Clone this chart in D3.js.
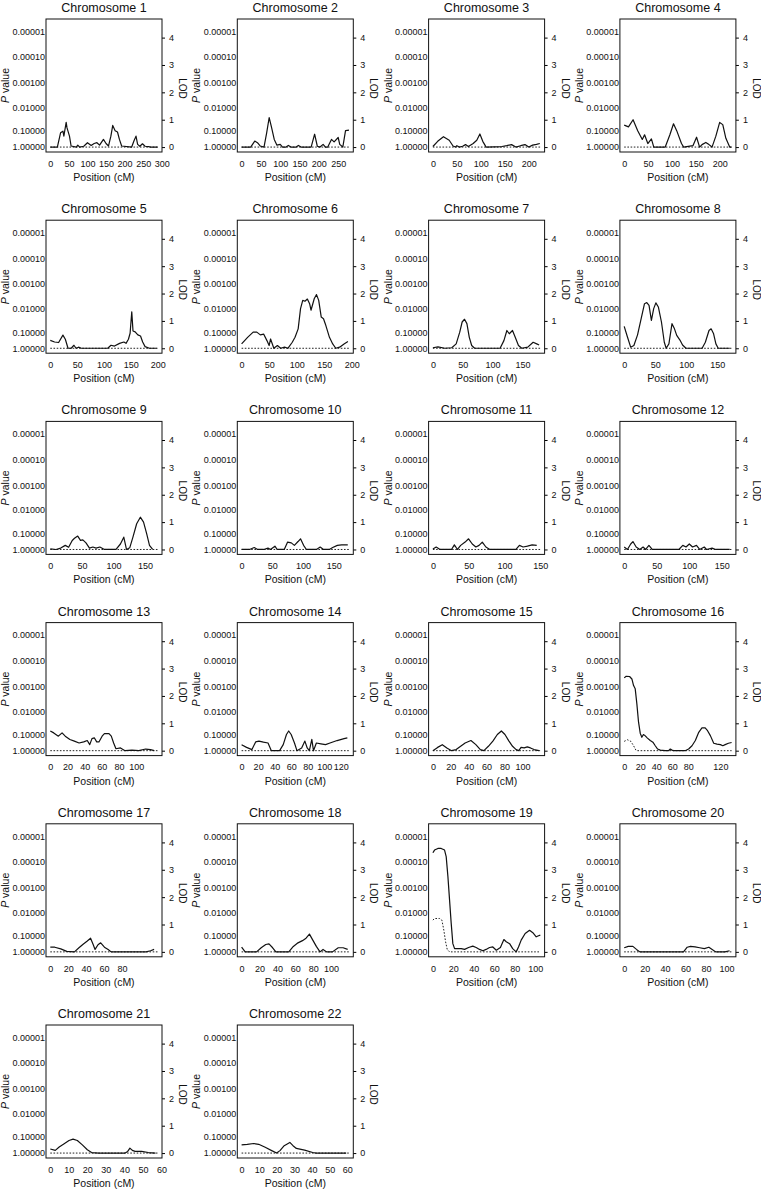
<!DOCTYPE html>
<html>
<head>
<meta charset="utf-8">
<script src="https://cdn.jsdelivr.net/npm/d3@7"></script>
<style>
  body { margin: 0; background: #fff; }
  svg text { font-family: "Liberation Sans", Arial, Helvetica, sans-serif; fill: #111; }
</style>
</head>
<body>
<svg id="chart" width="761" height="1201"></svg>
<script>
// chromosome names and map lengths (cM)
const chromosomes = ["1","2","3","4","5","6","7","8","9","10","11","12","13","14","15","16","17","18","19","20","21","22"];
const chrLength = [289, 278, 224, 225, 200, 195, 180, 173, 170, 175, 150, 165, 125, 130, 120, 134, 120, 120, 105, 105, 58, 61];

// x tick labels for each panel
const xTicks = [
  [0,50,100,150,200,250,300], [0,50,100,150,200,250], [0,50,100,150,200], [0,50,100,150,200],
  [0,50,100,150,200], [0,50,100,150,200], [0,50,100,150], [0,50,100,150],
  [0,50,100,150], [0,50,100,150], [0,50,100,150], [0,50,100,150],
  [0,20,40,60,80,100], [0,20,40,60,80,100,120], [0,20,40,60,80,100], [0,20,40,60,80,120],
  [0,20,40,60,80], [0,20,40,60,80,100], [0,20,40,60,80,100], [0,20,40,60,80,100],
  [0,10,20,30,40,50,60], [0,10,20,30,40,50,60]
];

// right axis (LOD) and left axis (P value, placed at matching LOD)
const lodTicks = [0, 1, 2, 3, 4];
const pTickLabels = ["0.00001", "0.00010", "0.00100", "0.01000", "0.10000", "1.00000"];
const pTickLod = [4.23, 3.29, 2.35, 1.44, 0.59, 0];

// multipoint LOD curves, [position cM, LOD]
const lodCurves = [
  [[0,0],[19,0],[27.6,0.52],[34,0.58],[36.5,0.4],[42.7,0.9],[45,0.7],[51.6,0.4],[56,0.04],[70,0],[74,0.07],[79,0],[90,0.03],[100,0.16],[110,0.06],[118,0.13],[125.5,0.16],[132.6,0.07],[143,0.28],[150,0.13],[156.7,0.04],[163,0.4],[168,0.79],[174.5,0.6],[180.8,0.55],[186,0.28],[192,0.04],[219,0],[225,0.22],[230.6,0.4],[235,0.1],[241,0.03],[248,0.12],[255,0.03],[264,0.02],[270,0],[289,0]],
  [[0,0],[23.5,0],[34,0.22],[41,0.16],[48,0.04],[58,0],[65,0.53],[71.4,1.08],[77.5,0.72],[84.5,0.28],[91.5,0.07],[100,0.1],[106,0],[115,0],[121,0.06],[128,0],[141,0],[147,0.06],[154,0],[180,0],[189,0.47],[196,0.03],[203,0],[211,0.1],[217,0],[223,0],[232.6,0.28],[239.5,0.19],[250,0.35],[254,0.1],[262,0],[269,0.6],[278,0.62]],
  [[0,0.02],[10,0.21],[22,0.38],[34,0.25],[42,0.04],[47,0],[50,0.05],[55,0],[62,0.03],[68,0.09],[74,0.02],[84,0.13],[91.5,0.25],[98,0.48],[104,0.21],[111,0],[144,0.02],[154,0.05],[164,0.09],[173,0],[183,0.05],[192,0.09],[200,0],[208,0.07],[216,0.1],[223,0.13]],
  [[0,0.8],[9,0.74],[18.6,1.0],[28.3,0.6],[37.9,0.28],[42.7,0.45],[49.5,0.13],[57,0.3],[62,0],[86,0],[95.7,0.45],[103.3,0.85],[110,0.6],[120,0.13],[124.6,0],[144,0.05],[151.6,0.36],[158,0],[163,0.09],[171,0.17],[177.6,0.09],[184,0],[192,0.4],[200,0.9],[206.5,0.82],[213,0.32],[221,0],[225,0]],
  [[0,0.29],[8,0.23],[15.5,0.21],[23.5,0.48],[28,0.33],[33,0],[39,0],[44,0.11],[48,0],[52.6,0.04],[57.6,0],[107,0],[113,0.11],[119.5,0.08],[129,0.18],[137,0.23],[141,0.18],[145.5,0.33],[148.6,0.55],[151.7,1.33],[154,0.63],[158,0.6],[163,0.49],[168,0.45],[172,0.23],[176.5,0.06],[184.5,0],[198,0]],
  [[0,0.16],[10.9,0.4],[21,0.59],[27.6,0.59],[34,0.49],[40,0.52],[46,0.28],[50,0.1],[52.6,0.34],[58.5,0],[65,0.1],[71,0],[78,0.04],[84,0],[92,0.22],[97,0.4],[102.7,0.71],[107,1.45],[111,1.75],[115,1.72],[119.4,1.8],[123.5,1.63],[126,1.39],[132,1.82],[136,1.96],[140,1.75],[144.6,1.14],[148.7,1.08],[153,0.83],[159.5,0.4],[165.4,0.16],[171,0],[178,0.04],[186,0.16],[193,0.25]],
  [[0,0.02],[8.5,0.05],[20,0],[31.6,0.02],[39,0.16],[45,0.59],[49,0.96],[53,1.06],[57,0.9],[61,0.4],[65,0.1],[70,0],[112.6,0],[119,0.28],[124,0.65],[128,0.53],[133.4,0.65],[138,0.4],[143.4,0.1],[149,0],[159,0.04],[168,0.22],[174,0.16],[178,0.12]],
  [[0,0.8],[5,0.43],[10.4,0.04],[15.6,0.1],[21.5,0.49],[27.5,1.1],[32.7,1.63],[36.4,1.67],[40,1.57],[43.8,1.02],[47.5,1.45],[51,1.66],[55,1.51],[60,0.96],[64.6,0.22],[67.6,0],[72,0.16],[77,0.9],[81,0.71],[84.6,0.47],[89.8,0.3],[94,0.12],[99.5,0],[125.5,0],[130.7,0.22],[136.6,0.65],[140,0.71],[144,0.53],[147.7,0.16],[151.4,0],[170,0]],
  [[0,0.02],[9,0],[16.5,0.05],[23.7,0.15],[29,0.08],[34.7,0.33],[38.3,0.41],[43.4,0.49],[47.8,0.33],[51.5,0.35],[56.5,0.24],[62,0.05],[67.4,0.09],[72.5,0.05],[78.4,0.09],[85.7,0],[104,0],[111,0.2],[116.3,0.45],[120.6,0],[125.7,0.06],[130.8,0.45],[136.7,0.94],[142.5,1.18],[147.6,1.0],[152.6,0.57],[157,0.15],[162,0]],
  [[0,0],[13,0],[20.6,0.07],[26,0],[36,0],[43,0.05],[47,0],[54.3,0.12],[58,0],[69.5,0],[75,0.27],[81,0.24],[86,0.15],[92,0.29],[96,0.39],[101,0.15],[105.6,0],[122,0],[128,0.09],[133.4,0],[143,0],[148.4,0.07],[156,0.15],[163,0.17],[173,0.17]],
  [[0,0.02],[4.6,0.09],[10,0],[26,0],[30,0.17],[34.3,0],[38.8,0.15],[45,0.27],[49.8,0.39],[55,0.2],[60,0.09],[64.5,0.15],[69,0.27],[74,0.09],[79.5,0],[116,0],[120.8,0.15],[126,0.09],[132,0.12],[138.6,0.17],[145,0.15]],
  [[0,0.09],[5,0],[10,0.2],[13.4,0.29],[18.4,0.09],[24,0],[29,0.09],[33,0],[38,0.15],[43,0],[84,0],[90,0.15],[95,0.09],[100,0.2],[105,0.09],[111,0.15],[116,0],[123,0.09],[126.5,0],[135,0.05],[140.6,0],[162,0]],
  [[0,0.72],[4,0.65],[9.4,0.53],[13.7,0.65],[17.4,0.53],[22.8,0.41],[28,0.35],[33.5,0.28],[38.9,0.32],[43,0.37],[45.9,0.22],[48.5,0.44],[51.2,0.47],[54,0.32],[56.6,0.32],[60.3,0.53],[63,0.62],[68.3,0.62],[71,0.53],[73.7,0.28],[76.4,0.07],[81.7,0.1],[87,0],[95,0.02],[103,0],[111,0.06],[116.6,0.04],[121,0]],
  [[0,0.22],[6,0.12],[12.5,0.04],[17,0.32],[21,0.35],[26.5,0.31],[32,0.28],[36,0],[46,0],[50.4,0.22],[54.3,0.59],[57,0.72],[60,0.59],[64,0.28],[67,0],[72.7,0.1],[76.6,0.35],[79.4,0.1],[82,0],[85,0.41],[87,0],[90.5,0.28],[96,0.25],[101.6,0.22],[107,0.28],[115.6,0.37],[124,0.44],[128,0.47]],
  [[0,0],[5.3,0.12],[10.5,0.22],[15.6,0.1],[20.8,0],[26,0.04],[31,0.16],[36,0.28],[42.5,0.37],[48,0.22],[53,0.04],[57,0],[62,0.16],[67,0.35],[72,0.59],[76.5,0.72],[80.5,0.59],[85,0.35],[89,0.16],[93,0.04],[96,0],[98.5,0.12],[102,0.1],[105.5,0.14],[109,0.1],[113,0.04],[118.5,0]],
  [[0,2.66],[2.5,2.72],[6.7,2.71],[9.6,2.62],[11.7,2.38],[13.75,2.26],[15.8,1.71],[17.9,1.04],[20,0.64],[22,0.49],[24,0.59],[26,0.55],[29,0.46],[32.5,0.37],[35.8,0.31],[38.75,0.18],[41.7,0.06],[45,0.02],[51,0],[55.4,0],[57.5,0.06],[59.6,0.02],[61.7,0],[76,0],[80.4,0.06],[84.6,0.18],[88.75,0.37],[93,0.67],[97,0.83],[101,0.83],[104,0.73],[107.5,0.55],[111.7,0.27],[115.8,0.24],[120,0.22],[123,0.18],[126,0.22],[130,0.27],[134,0.3]],
  [[0,0.17],[5,0.17],[11.7,0.11],[18.4,0.02],[27,0],[32,0.15],[37,0.29],[41,0.39],[45,0.5],[48,0.26],[50,0.09],[53.3,0.26],[56.3,0.33],[60.5,0.17],[64.6,0.09],[68,0],[107,0],[112,0.04],[116,0.09]],
  [[0,0.17],[4,0],[16.7,0],[21.9,0.15],[27,0.27],[30.6,0.29],[34.7,0.15],[38.3,0],[52.7,0],[57.8,0.2],[63,0.33],[68,0.41],[72,0.5],[75.8,0.65],[79.4,0.44],[83.5,0.2],[87.6,0],[91,0.09],[95,0],[101.5,0],[108,0.15],[113.4,0.15],[118.5,0.09]],
  [[0,3.62],[1.6,3.72],[4.9,3.78],[8.1,3.78],[11.4,3.72],[13,3.48],[14.7,2.74],[16.3,1.89],[17.9,1.04],[19.5,0.3],[21.2,0.12],[24.4,0.12],[27.7,0.12],[31,0.09],[34.9,0.16],[39,0.21],[42.3,0.16],[45.6,0.09],[48.9,0.04],[52,0.09],[55.4,0.16],[58.6,0.18],[62,0.06],[66,0.16],[69.4,0.45],[71.7,0.37],[75,0.3],[78,0.12],[81.4,0],[83.7,0.18],[86.3,0.43],[90.2,0.67],[94.5,0.79],[97.7,0.7],[101,0.55],[103.3,0.59],[105,0.61]],
  [[0,0.15],[4,0.2],[8.5,0.2],[12,0.09],[15.3,0],[58,0],[61.6,0.17],[64.8,0.2],[69.3,0.18],[73.8,0.15],[78.3,0.12],[82.8,0.17],[86,0.09],[89.5,0],[98.5,0],[103,0.04]],
  [[0,0.15],[2.7,0.1],[4.8,0.22],[7.5,0.34],[10.1,0.46],[12.3,0.51],[14.6,0.46],[17.3,0.3],[20,0.12],[22.3,0.02],[26.2,0],[40.4,0],[41.8,0.06],[43,0.18],[44.3,0.1],[45.8,0.06],[49.3,0.06],[52.9,0.02],[56.8,0]],
  [[0,0.3],[3.2,0.32],[6.9,0.35],[9.7,0.32],[13.4,0.21],[17.1,0.09],[19.9,0],[21.8,0.09],[24.2,0.27],[27.4,0.39],[29.2,0.27],[31.1,0.17],[35.8,0.11],[40.4,0.02],[42.3,0],[59.4,0]]
];

// dotted (two-point) curves that leave zero; all other panels stay flat at 0
const dottedCurves = {
  "16": [[0,0.34],[4,0.4],[8.3,0.34],[11.7,0.18],[14.6,0.02],[15.8,0],[134,0]],
  "19": [[0,1.16],[1.6,1.22],[6.5,1.22],[8.8,1.16],[10.7,0.79],[12.4,0.37],[14,0.09],[16.3,0],[105,0]]
};

const boxW = 116, boxH = 133;
const colLeft = c => 46 + c * 191.3;
const rowTop = r => 19 + r * 201.2;

const svg = d3.select("#chart");

// same LOD scale for every panel
const y = d3.scaleLinear().domain([-0.18, 4.68]).range([boxH, 0]);

chromosomes.forEach((chr, i) => {
  const col = i % 4, row = Math.floor(i / 4);
  const L = chrLength[i];
  const g = svg.append("g")
    .attr("transform", `translate(${colLeft(col)},${rowTop(row)})`);

  const x = d3.scaleLinear().domain([-0.04 * L, 1.04 * L]).range([0, boxW]);

  // title
  g.append("text")
    .attr("x", boxW / 2)
    .attr("y", -7)
    .attr("text-anchor", "middle")
    .style("font-size", "12.5px")
    .text(`Chromosome ${chr}`);

  // left axis: P values
  const left = g.append("g")
    .call(d3.axisLeft(y).tickValues(pTickLod).tickFormat((d, j) => pTickLabels[j]).tickSize(0).tickPadding(1));
  left.select(".domain").remove();
  left.selectAll("text").style("font-size", "9px").attr("font-family", null);

  // right axis: LOD
  const right = g.append("g")
    .attr("transform", `translate(${boxW},0)`)
    .call(d3.axisRight(y).tickValues(lodTicks).tickFormat(d3.format("d")).tickSize(3).tickPadding(4));
  right.select(".domain").remove();
  right.selectAll("text").style("font-size", "9px").attr("font-family", null);

  // bottom axis: position
  const bottom = g.append("g")
    .attr("transform", `translate(0,${boxH})`)
    .call(d3.axisBottom(x).tickValues(xTicks[i]).tickSize(0).tickPadding(8.5));
  bottom.select(".domain").remove();
  bottom.selectAll("text").style("font-size", "9px").attr("font-family", null);

  // axis titles
  const pLab = g.append("text")
    .attr("transform", `translate(-37,${boxH / 2}) rotate(-90)`)
    .attr("text-anchor", "middle")
    .style("font-size", "10.5px");
  pLab.append("tspan").style("font-style", "italic").text("P");
  pLab.append("tspan").text(" value");

  g.append("text")
    .attr("transform", `translate(${boxW + 17},${boxH / 2 + 3}) rotate(90)`)
    .attr("text-anchor", "middle")
    .style("font-size", "10px")
    .text("LOD");

  g.append("text")
    .attr("x", boxW / 2)
    .attr("y", boxH + 29)
    .attr("text-anchor", "middle")
    .style("font-size", "10.5px")
    .text("Position (cM)");

  const line = d3.line().x(d => x(d[0])).y(d => y(d[1]));

  // dotted curve
  const dots = dottedCurves[chr] || [[0, 0], [L, 0]];
  g.append("path")
    .datum(dots)
    .attr("d", line)
    .attr("fill", "none")
    .attr("stroke", "#222")
    .attr("stroke-width", 1)
    .attr("stroke-dasharray", "1.6,1.6");

  // LOD curve
  g.append("path")
    .datum(lodCurves[i])
    .attr("d", line)
    .attr("fill", "none")
    .attr("stroke", "#111")
    .attr("stroke-width", 1.2)
    .attr("stroke-linejoin", "round");

  // frame
  g.append("rect")
    .attr("width", boxW)
    .attr("height", boxH)
    .attr("fill", "none")
    .attr("stroke", "#111")
    .attr("stroke-width", 1);
});
</script>
</body>
</html>
